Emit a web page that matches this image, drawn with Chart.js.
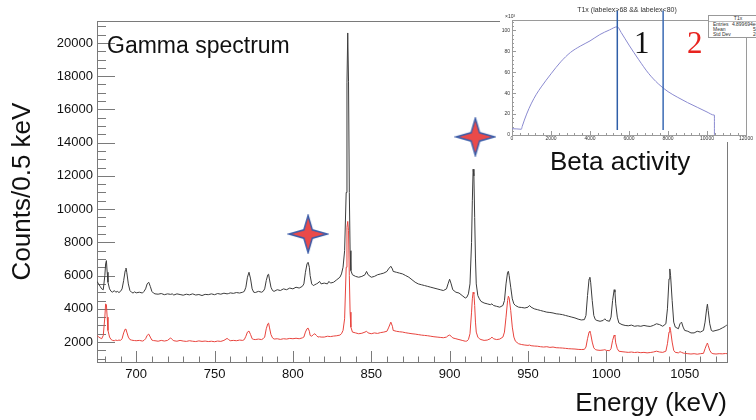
<!DOCTYPE html>
<html>
<head>
<meta charset="utf-8">
<script src="https://cdn.jsdelivr.net/npm/chart.js@4.4.0/dist/chart.umd.min.js"></script>
<style>
  html, body { margin: 0; padding: 0; background: #fff; overflow: hidden; }
  #wrap { position: relative; width: 756px; height: 420px; overflow: hidden; font-family: 'Liberation Sans', Arial, sans-serif; }
  canvas { position: absolute; top: 0; }
  #spectrum { left: 0; }
  #beta { left: 500px; background: #fff; }
  .note { position: absolute; line-height: 1; white-space: nowrap; color: #111; }
  #gamma { left: 107px; top: 34px; font-size: 23px; }
  #betaLabel { left: 550px; top: 148px; font-size: 26px; }
  .region { font-family: 'Liberation Serif', 'Times New Roman', serif; font-size: 31px; top: 27px; }
  #one { left: 634px; }
  #two { left: 687px; color: #e8231f; }
  #inTitle { left: 627px; top: 6px; font-size: 7px; transform: translateX(-50%); color: #333; }
  #x10 { left: 505px; top: 14px; font-size: 5px; color: #333; }
  #stats { position: absolute; left: 708px; top: 15px; width: 58px; border: 1px solid #999; background: #fff;
           font-size: 5px; line-height: 5px; color: #333; }
  #stats .head { text-align: center; border-bottom: 1px solid #bbb; }
  #stats .row { display: flex; justify-content: space-between; padding: 0 3px 0 4px; }
</style>
</head>
<body>
<div id="wrap">
  <canvas id="spectrum" width="756" height="420"></canvas>
  <canvas id="beta" width="256" height="142"></canvas>
  <div class="note" id="gamma">Gamma spectrum</div>
  <div class="note" id="betaLabel">Beta activity</div>
  <div class="note region" id="one">1</div>
  <div class="note region" id="two">2</div>
  <div class="note" id="inTitle">T1x (labelex&gt;68 &amp;&amp; labelex&lt;80)</div>
  <div class="note" id="x10">×10³</div>
  <div id="stats">
    <div class="head">T1x</div>
    <div class="row"><span>Entries</span><span>4.899694e+07</span></div>
    <div class="row"><span>Mean</span><span>5391</span></div>
    <div class="row"><span>Std Dev</span><span>2466</span></div>
  </div>
</div>
<script>
// gamma spectrum, counts per 0.5 keV
const energies = [
  675, 676, 677, 678, 679, 680, 680.5, 681, 681.5, 682,
  683, 684, 685, 686, 687, 688, 689, 690, 691, 692,
  693, 693.5, 694, 695, 696, 697, 698, 699, 700, 702,
  704, 705, 706, 707, 708, 709, 710, 711, 712, 714,
  716, 718, 720, 722, 723, 724, 726, 728, 730, 732,
  734, 736, 738, 740, 742, 744, 746, 748, 750, 752,
  754, 756, 758, 759, 760, 762, 764, 766, 768, 769,
  770, 771, 772, 773, 774, 775, 776, 778, 780, 781,
  782, 783, 784, 784.5, 785, 786, 787, 788, 790, 792,
  794, 796, 798, 800, 802, 804, 806, 807, 808, 809,
  809.7, 810.5, 811, 812, 813, 814, 815, 816, 817, 818,
  820, 822, 823, 824, 826, 828, 830, 831, 832, 833,
  834, 834.5, 835, 835.5, 836, 836.5, 837, 838, 840, 842,
  844, 846, 847, 848, 850, 852, 854, 856, 858, 860,
  861, 862.5, 863.5, 864, 866, 868, 870, 872, 874, 876,
  878, 880, 882, 884, 886, 888, 890, 892, 894, 896,
  898, 899, 900, 901, 902, 904, 906, 908, 910, 911,
  912, 913, 914, 914.5, 915, 915.5, 916, 916.5, 917, 918,
  919, 920, 922, 924, 926, 927, 928, 930, 932, 934,
  935, 936, 937, 937.5, 938, 939, 940, 941, 942, 944,
  946, 948, 950, 951, 952, 954, 956, 958, 960, 962,
  964, 966, 968, 970, 972, 974, 976, 978, 980, 982,
  984, 986, 987, 988, 989, 989.5, 990, 991, 992, 993,
  994, 996, 998, 999, 1000, 1002, 1003, 1004, 1005, 1005.5,
  1006, 1007, 1008, 1010, 1012, 1014, 1016, 1018, 1020, 1022,
  1024, 1026, 1028, 1030, 1032, 1034, 1036, 1038, 1039, 1040,
  1040.5, 1041, 1042, 1043, 1044, 1046, 1047, 1048, 1049, 1050,
  1052, 1054, 1056, 1058, 1060, 1062, 1063, 1064, 1064.5, 1065,
  1066, 1067, 1068, 1070, 1072, 1074, 1076, 1077
];
const allCounts = [
  5650, 5500, 5350, 5200, 5150, 6000, 6700, 6900, 6200, 5600,
  5200, 5050, 5000, 5100, 5000, 5050, 4980, 5050, 5200, 5700,
  6300, 6450, 6200, 5500, 5100, 5000, 4950, 5020, 4960, 5000,
  4950, 5050, 5200, 5500, 5600, 5350, 5050, 4950, 4900, 4880,
  4920, 4850, 4900, 4870, 4900, 4830, 4900, 4860, 4820, 4880,
  4840, 4900, 4830, 4860, 4800, 4870, 4850, 4900, 4850, 4920,
  4880, 4940, 4900, 4920, 4960, 4930, 4980, 4950, 5000, 5050,
  5300, 5900, 6200, 5800, 5200, 5000, 4980, 5050, 5000, 5050,
  5200, 5700, 6050, 6080, 5800, 5300, 5100, 5050, 5150, 5100,
  5200, 5150, 5250, 5200, 5300, 5250, 5350, 5500, 6200, 6700,
  6800, 6500, 6000, 5500, 5400, 5450, 5500, 5550, 5650, 5500,
  5550, 5500, 5650, 5550, 5600, 5750, 5900, 6100, 6500, 7500,
  11000, 17600, 20600, 17700, 11000, 7500, 6300, 6050, 5950, 5900,
  5950, 6050, 6250, 6050, 5900, 5950, 6050, 6100, 6150, 6250,
  6400, 6560, 6400, 6250, 6200, 6150, 6100, 6000, 5900, 5750,
  5600, 5500, 5450, 5400, 5350, 5300, 5250, 5200, 5150, 5100,
  5200, 5500, 5780, 5500, 5150, 5000, 4950, 4800, 4650, 4700,
  4900, 5500, 8000, 10500, 12400, 12000, 9500, 7000, 5500, 4800,
  4600, 4450, 4350, 4300, 4250, 4300, 4200, 4150, 4100, 4200,
  4500, 5500, 6200, 6260, 6000, 5300, 4600, 4300, 4200, 4100,
  4080, 4050, 4100, 4200, 4100, 4000, 3950, 3900, 3850, 3800,
  3780, 3750, 3700, 3680, 3650, 3600, 3550, 3500, 3450, 3380,
  3330, 3350, 3600, 4800, 5800, 5900, 5600, 4500, 3600, 3350,
  3300, 3250, 3300, 3400, 3300, 3250, 3500, 4500, 5150, 5000,
  4300, 3500, 3150, 3050, 3000, 2980, 3020, 2950, 2980, 2950,
  3000, 2960, 2940, 3000, 3100, 3050, 2950, 3100, 4000, 5800,
  6400, 6000, 4500, 3200, 2900, 2800, 3100, 3200, 2900, 2700,
  2650, 2550, 2550, 2650, 2600, 2700, 3200, 4000, 4280, 3900,
  3100, 2700, 2650, 2700, 2750, 2850, 2950, 3050
];
const gatedCounts = [
  2400, 2300, 2250, 2200, 2400, 3500, 4300, 4250, 3500, 2700,
  2300, 2150, 2100, 2080, 2120, 2090, 2120, 2100, 2200, 2550,
  2780, 2760, 2600, 2300, 2150, 2120, 2100, 2090, 2080, 2100,
  2060, 2100, 2200, 2400, 2480, 2300, 2120, 2090, 2080, 2050,
  2100, 2060, 2100, 2250, 2150, 2080, 2050, 2100, 2060, 2040,
  2080, 2050, 2030, 2070, 2040, 2060, 2030, 2050, 2020, 2060,
  2040, 2100, 2220, 2150, 2080, 2100, 2080, 2120, 2100, 2150,
  2350, 2600, 2660, 2450, 2200, 2160, 2150, 2180, 2150, 2200,
  2300, 2800, 3100, 3140, 2900, 2450, 2250, 2180, 2200, 2160,
  2200, 2180, 2220, 2200, 2230, 2200, 2250, 2300, 2600, 2800,
  2840, 2650, 2400, 2350, 2450, 2500, 2400, 2300, 2320, 2300,
  2300, 2350, 2340, 2330, 2360, 2380, 2420, 2500, 2700, 3400,
  6500, 8900, 9260, 8700, 6000, 3800, 2900, 2600, 2550, 2500,
  2530, 2600, 2650, 2550, 2500, 2550, 2520, 2570, 2600, 2650,
  2850, 3200, 2950, 2700, 2650, 2620, 2600, 2560, 2530, 2500,
  2480, 2450, 2420, 2400, 2380, 2350, 2320, 2300, 2280, 2260,
  2300, 2380, 2420, 2350, 2250, 2200, 2150, 2100, 2050, 2060,
  2150, 2500, 3800, 4600, 5000, 4900, 4200, 3200, 2600, 2300,
  2200, 2150, 2100, 2120, 2200, 2300, 2200, 2150, 2180, 2300,
  2600, 3500, 4500, 4760, 4650, 3900, 2900, 2300, 2050, 1900,
  1850, 1820, 1800, 1820, 1780, 1760, 1750, 1720, 1700, 1720,
  1680, 1700, 1660, 1650, 1640, 1620, 1600, 1590, 1580, 1560,
  1550, 1560, 1700, 2200, 2600, 2660, 2500, 2000, 1650, 1550,
  1520, 1500, 1520, 1540, 1500, 1480, 1600, 2100, 2420, 2350,
  1950, 1600, 1450, 1420, 1400, 1380, 1400, 1370, 1390, 1360,
  1380, 1350, 1370, 1400, 1450, 1400, 1380, 1450, 1900, 2600,
  2900, 2700, 2000, 1500, 1380, 1350, 1420, 1380, 1340, 1320,
  1300, 1280, 1300, 1270, 1300, 1320, 1600, 1850, 1940, 1800,
  1500, 1350, 1300, 1280, 1300, 1290, 1310, 1300
];
const energyTicks = [700, 750, 800, 850, 900, 950, 1000, 1050];
const countTicks = [2000, 4000, 6000, 8000, 10000, 12000, 14000, 16000, 18000, 20000];

// the two marked lines (star markers)
const starEnergy = [809.7, 916.4];
const starCounts = [8500, 14350];

// inset: beta activity
const betaTime = [0, 250, 480, 520, 750, 1000, 1250, 1500, 2000, 2500,
  3000, 3500, 4000, 4500, 5000, 5400, 5600, 6000, 6500, 7000,
  7500, 8000, 8500, 9000, 9500, 10000, 10380, 10380];
const betaRate = [6, 5.8, 5.5, 8, 20, 30.5, 39, 46, 58.5, 70,
  79, 85, 90, 96, 100.5, 103.5, 98, 86, 72, 59,
  49, 41.5, 36, 31, 26.5, 22, 19, 0];
const cutTimes = [5400, 7750];
const cutSpan = [4.8, 119];
const betaTimeTicks = [0, 2000, 4000, 6000, 8000, 10000, 12000];
const betaRateTicks = [0, 20, 40, 60, 80, 100];

Chart.defaults.font.family = "'Liberation Sans', Arial, sans-serif";

// ROOT-like inward ticks and frame
const rootTicks = {
  id: 'rootTicks',
  beforeDatasetsDraw(chart, args, o) {
    const { ctx, chartArea: a, scales: { x, y } } = chart;
    const near = (v, step) => Math.abs(v / step - Math.round(v / step)) < 1e-6;
    ctx.save();
    ctx.strokeStyle = o.color;
    ctx.lineWidth = 1;
    ctx.beginPath();
    for (let v = Math.ceil(x.min / o.xMinor) * o.xMinor; v <= x.max; v += o.xMinor) {
      const px = Math.round(x.getPixelForValue(v)) + 0.5;
      const len = near(v, o.xMajor) ? o.xLen : o.xLen / 2;
      ctx.moveTo(px, a.bottom);
      ctx.lineTo(px, a.bottom - len);
    }
    for (let v = Math.ceil(y.min / o.yMinor) * o.yMinor; v <= y.max; v += o.yMinor) {
      const py = Math.round(y.getPixelForValue(v)) + 0.5;
      const len = near(v, o.yMajor) ? o.yLen : o.yLen / 2;
      ctx.moveTo(a.left, py);
      ctx.lineTo(a.left + len, py);
    }
    ctx.stroke();
    ctx.strokeRect(Math.round(a.left) + 0.5, Math.round(a.top) + 0.5, Math.round(a.width), Math.round(a.height));
    ctx.restore();
  }
};

// four-pointed star marker (straight edged)
const star = document.createElement('canvas');
star.width = 42;
star.height = 40;
(function () {
  const c = star.getContext('2d');
  const cx = 21, cy = 20, w = 19, h = 18.5, d = 4.2;
  c.beginPath();
  c.moveTo(cx, cy - h);
  c.lineTo(cx + d, cy - d);
  c.lineTo(cx + w, cy);
  c.lineTo(cx + d, cy + d);
  c.lineTo(cx, cy + h);
  c.lineTo(cx - d, cy + d);
  c.lineTo(cx - w, cy);
  c.lineTo(cx - d, cy - d);
  c.closePath();
  c.fillStyle = '#ea4a4a';
  c.fill();
  c.strokeStyle = '#3b5ca8';
  c.lineWidth = 1.5;
  c.lineJoin = 'miter';
  c.stroke();
})();

const toPoints = (xs, ys) => xs.map((v, i) => ({ x: v, y: ys[i] }));
const fixedTicks = list => scale => { scale.ticks = list.map(v => ({ value: v })); };

new Chart(document.getElementById('spectrum'), {
  type: 'line',
  data: {
    datasets: [
      { type: 'scatter', data: toPoints(starEnergy, starCounts), pointStyle: star, pointRadius: 3, order: 0 },
      { data: toPoints(energies, gatedCounts), borderColor: '#e8443e', borderWidth: 1, pointRadius: 0, order: 1 },
      { data: toPoints(energies, allCounts), borderColor: '#3c3c3c', borderWidth: 1, pointRadius: 0, order: 2 }
    ]
  },
  options: {
    responsive: false,
    animation: false,
    devicePixelRatio: 1,
    layout: { padding: { top: 21, right: 29, left: 0, bottom: 0 } },
    plugins: {
      legend: { display: false },
      tooltip: { enabled: false },
      rootTicks: { color: '#7a7a7a', xMajor: 50, xMinor: 10, xLen: 11, yMajor: 2000, yMinor: 500, yLen: 18 }
    },
    scales: {
      x: {
        type: 'linear', min: 675, max: 1077,
        afterBuildTicks: fixedTicks(energyTicks),
        afterFit: s => { s.height = 58; },
        grid: { display: false, drawTicks: false },
        border: { display: false },
        ticks: { font: { size: 13 }, color: '#111', padding: 5, maxRotation: 0, autoSkip: false, callback: v => String(v) },
        title: { display: true, text: 'Energy (keV)', align: 'end', color: '#111', font: { size: 26 }, padding: { top: 0, bottom: 1 } }
      },
      y: {
        type: 'linear', min: 800, max: 21320,
        afterBuildTicks: fixedTicks(countTicks),
        afterFit: s => { s.width = 97; },
        grid: { display: false, drawTicks: false },
        border: { display: false },
        ticks: { font: { size: 13 }, color: '#111', padding: 4, autoSkip: false, callback: v => String(v) },
        title: { display: true, text: 'Counts/0.5 keV', color: '#111', font: { size: 26 }, padding: { top: 7, bottom: 0 } }
      }
    }
  },
  plugins: [rootTicks]
});

new Chart(document.getElementById('beta'), {
  type: 'line',
  data: {
    datasets: [
      { data: toPoints([cutTimes[0], cutTimes[0]], cutSpan), borderColor: '#2e5ea8', borderWidth: 1.5, pointRadius: 0, clip: false, order: 0 },
      { data: toPoints([cutTimes[1], cutTimes[1]], cutSpan), borderColor: '#3a6ab4', borderWidth: 1.5, pointRadius: 0, clip: false, order: 0 },
      { data: toPoints(betaTime, betaRate), borderColor: '#8a8ad0', borderWidth: 1, pointRadius: 0, cubicInterpolationMode: 'monotone', order: 1 }
    ]
  },
  options: {
    responsive: false,
    animation: false,
    devicePixelRatio: 1,
    layout: { padding: { top: 20, right: 10, left: 0, bottom: 0 } },
    plugins: {
      legend: { display: false },
      tooltip: { enabled: false },
      rootTicks: { color: '#9a9a9a', xMajor: 2000, xMinor: 400, xLen: 4, yMajor: 20, yMinor: 4, yLen: 4 }
    },
    scales: {
      x: {
        type: 'linear', min: 0, max: 12000,
        afterBuildTicks: fixedTicks(betaTimeTicks),
        afterFit: s => { s.height = 7; },
        grid: { display: false, drawTicks: false },
        border: { display: false },
        ticks: { font: { size: 5 }, color: '#333', padding: 1, maxRotation: 0, autoSkip: false, callback: v => String(v) }
      },
      y: {
        type: 'linear', min: 0, max: 110,
        afterBuildTicks: fixedTicks(betaRateTicks),
        afterFit: s => { s.width = 12; },
        grid: { display: false, drawTicks: false },
        border: { display: false },
        ticks: { font: { size: 5 }, color: '#333', padding: 2, autoSkip: false, callback: v => String(v) }
      }
    }
  },
  plugins: [rootTicks]
});
</script>
</body>
</html>
